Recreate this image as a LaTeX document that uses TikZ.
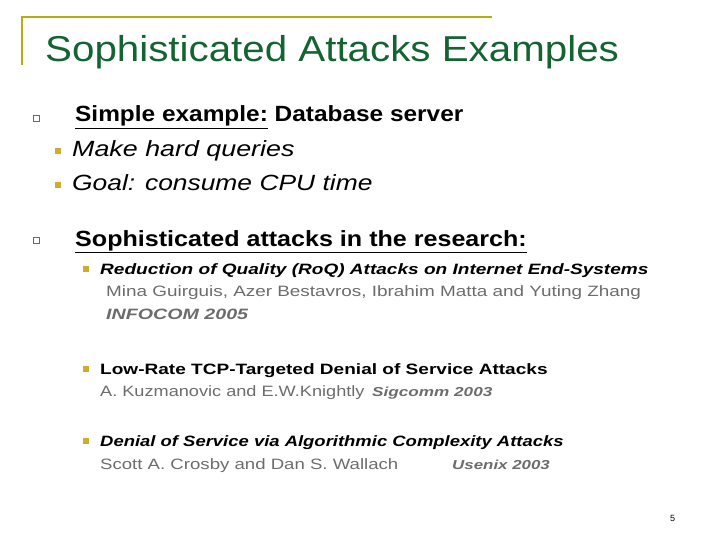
\documentclass[tikz,border=0pt]{standalone}
\usepackage{fontspec}
\usepackage{graphicx}
\setmainfont{Liberation Sans}
\newcommand{\hs}[2]{\scalebox{#1}[1]{#2}}
\begin{document}
\begin{tikzpicture}[x=1pt,y=-1pt,
  txt/.style={anchor=base west,inner sep=0pt},
  hollow/.style={draw=olive!80!black,line width=0.6pt,minimum size=6pt,inner sep=0pt},
  gold/.style={fill=yellow!60!orange!80!black,minimum size=6pt,inner sep=0pt},
  ref/.style={txt,text=gray!85!black}]
\useasboundingbox (0,0) rectangle (720,540);
\definecolor{tgreen}{RGB}{20,100,50}
\coordinate (f1) at (22,65); \coordinate (f2) at (22,17); \coordinate (f3) at (492,17);
\draw[yellow!50!olive!90!black,line width=1.2pt] (f1) -- (f2) -- (f3);
\node[txt,text=tgreen,font=\fontsize{36}{40}\selectfont] (title) at (45,62) {\hs{1.12}{Sophisticated Attacks Examples}};
\node[hollow] (b1) at (36,118) {};
\node[txt,font=\fontsize{22}{24}\selectfont\bfseries] (t1) at (75,122) {\hs{1.11}{\underline{Simple example:} Database server}};
\node[gold] (s1) at (58,151) {};
\node[txt,font=\fontsize{22}{24}\selectfont\itshape] (t2) at (72,157) {\hs{1.22}{Make hard queries}};
\node[gold] (s2) at (58,185) {};
\node[txt,font=\fontsize{22}{24}\selectfont\itshape] (t3) at (72,191) {\hs{1.2}{Goal: consume CPU time}};
\node[hollow] (b2) at (36,240) {};
\node[txt,font=\fontsize{22}{24}\selectfont\bfseries] (t4) at (75,246) {\hs{1.14}{\underline{Sophisticated attacks in the research:}}};
\node[gold] (s3) at (86,269) {};
\node[txt,font=\fontsize{15}{16}\selectfont\bfseries\itshape] (r1) at (100,274) {\hs{1.27}{Reduction of Quality (RoQ) Attacks on Internet End-Systems}};
\node[ref,font=\fontsize{15}{16}\selectfont] (a1) at (106,296) {\hs{1.26}{Mina Guirguis, Azer Bestavros, Ibrahim Matta and Yuting Zhang}};
\node[ref,font=\fontsize{15}{16}\selectfont\bfseries\itshape] (v1) at (106,319) {\hs{1.31}{INFOCOM 2005}};
\node[gold] (s4) at (86,369) {};
\node[txt,font=\fontsize{15}{16}\selectfont\bfseries] (r2) at (100,374) {\hs{1.27}{Low-Rate TCP-Targeted Denial of Service Attacks}};
\node[ref,font=\fontsize{15}{16}\selectfont] (a2) at (100,396) {\hs{1.21}{A. Kuzmanovic and E.W.Knightly}};
\node[ref,font=\fontsize{13}{14}\selectfont\bfseries\itshape] (v2) at (372,396) {\hs{1.32}{Sigcomm 2003}};
\node[gold] (s5) at (86,441) {};
\node[txt,font=\fontsize{15}{16}\selectfont\bfseries\itshape] (r3) at (100,446) {\hs{1.23}{Denial of Service via Algorithmic Complexity Attacks}};
\node[ref,font=\fontsize{15}{16}\selectfont] (a3) at (100,469) {\hs{1.24}{Scott A. Crosby and Dan S. Wallach}};
\node[ref,font=\fontsize{13}{14}\selectfont\bfseries\itshape] (v3) at (452,469) {\hs{1.3}{Usenix 2003}};
\node[txt,font=\fontsize{9}{10}\selectfont] (pg) at (670,521) {5};
\end{tikzpicture}
\end{document}
